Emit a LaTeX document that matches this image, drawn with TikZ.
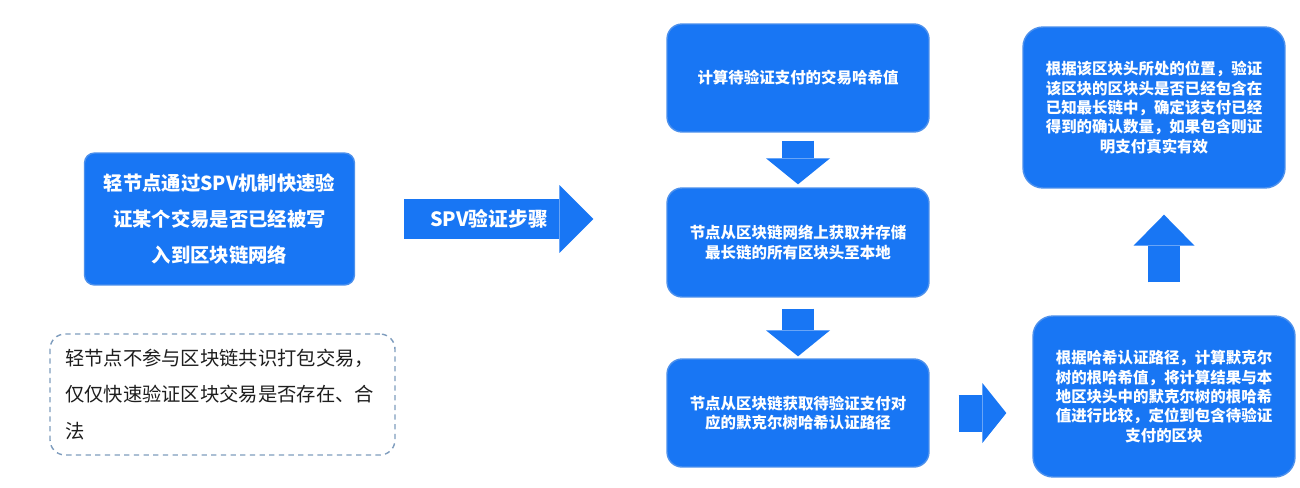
\documentclass[tikz,border=0pt]{standalone}
\usepackage{fontspec}
\setmainfont{Noto Sans CJK SC}
\usepackage{xcolor}
\usepackage{tikz}
\usetikzlibrary{arrows.meta}
\definecolor{sblue}{HTML}{1876F4}
\definecolor{sedge}{HTML}{4C90EC}
\definecolor{sdash}{HTML}{7F9DBE}
\definecolor{sink}{HTML}{1E1E1E}
\tikzset{
  sbox/.style={rounded corners=0.3cm, fill=sblue, draw=sedge, line width=0.8pt,
               text=white, align=center, inner sep=4pt,
               font=\bfseries\fontsize{8.8}{11}\selectfont,
               minimum width=5.24cm, minimum height=2.16cm},
  sbig/.style={sbox, rounded corners=0.4cm, minimum height=3.22cm},
  slight/.style={sbox, rounded corners=0.2cm, minimum width=5.4cm, minimum height=2.64cm,
                 font=\bfseries\fontsize{11}{20.4}\selectfont},
  snote/.style={rounded corners=0.3cm, draw=sdash, line width=0.8pt,
                dash pattern=on 3pt off 2.5pt, text=sink, align=left,
                text width=6.3cm, inner xsep=0.3cm, minimum height=2.42cm,
                font=\fontsize{11}{21}\selectfont},
  sflow/.style={draw=sblue, line width=#1},
  sdown/.style={sflow=0.64cm, -{Triangle[width=1.28cm, length=0.52cm, line width=0pt]}},
  sstep/.style={sflow=0.8cm, -{Triangle[width=1.36cm, length=0.68cm, line width=0pt]}},
  slbl/.style={text=white, font=\bfseries\fontsize{11.2}{13}\selectfont, inner sep=0pt},
}

\begin{document}
\begin{tikzpicture}[x=0.02cm,y=-0.02cm]

  \fill[white] (0,0) rectangle (1300,487);
  \useasboundingbox (0,0) rectangle (1300,487);

  % left side: light node and note
  \node[slight] (light) at (219.5,219)
       {轻节点通过SPV机制快速验\\证某个交易是否已经被写\\入到区块链网络};
  \node[snote] (note) at (222.5,394.5)
       {轻节点不参与区块链共识打包交易，\\仅仅快速验证区块交易是否存在、合\\法};

  % middle column
  \node[sbox] (hash) at (798,78) {计算待验证支付的交易哈希值};
  \node[sbox, minimum height=2.18cm] (headers) at (798,242.5)
       {节点从区块链网络上获取并存储\\最长链的所有区块头至本地};
  \node[sbox] (path) at (798,413)
       {节点从区块链获取待验证支付对\\应的默克尔树哈希认证路径};

  % right column
  \node[sbig] (root) at (1164,396.5)
       {根据哈希认证路径，计算默克尔\\树的根哈希值，将计算结果与本\\地区块头中的默克尔树的根哈希\\值进行比较，定位到包含待验证\\支付的区块};
  \node[sbig] (confirm) at (1154,107.5)
       {根据该区块头所处的位置，验证\\该区块的区块头是否已经包含在\\已知最长链中，确定该支付已经\\得到的确认数量，如果包含则证\\明支付真实有效};

  % SPV steps arrow
  \draw[sstep, shorten <=0.98cm, shorten >=1.46cm] (light.east)
       -- node[slbl, pos=0.43] (spv) {SPV验证步骤} (light.east -| headers.west);

  % block arrows between the steps
  \draw[sdown, shorten <=0.16cm, shorten >=0.06cm] (hash.south) -- (headers.north);
  \draw[sdown, shorten <=0.22cm, shorten >=0.04cm] (headers.south) -- (path.north);
  \draw[sflow=0.74cm, -{Triangle[width=1.2cm, length=0.48cm, line width=0pt]},
        shorten <=0.58cm, shorten >=0.52cm] (path.east) -- (path.east -| root.west);
  \draw[sflow=0.64cm, -{Triangle[width=1.22cm, length=0.62cm, line width=0pt]},
        shorten <=0.66cm, shorten >=0.52cm] (root.north) -- (root.north |- confirm.south);

\end{tikzpicture}
\end{document}
